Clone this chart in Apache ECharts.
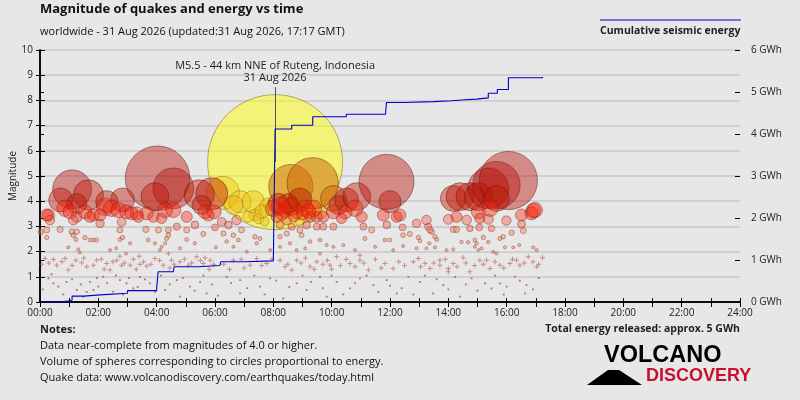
<!DOCTYPE html>
<html>
<head>
<meta charset="utf-8">
<script src="https://cdn.jsdelivr.net/npm/echarts@6/dist/echarts.min.js"></script>
<style>
html,body{margin:0;padding:0;background:#e7e7e7;}
#c{width:800px;height:400px;}
</style>
</head>
<body>
<div id="c"></div>
<script>
// ---------- DATA ----------
const hourTicks = [0,2,4,6,8,10,12,14,16,18,20,22,24];
const energyTicks = [0,1,2,3,4,5,6];

// strongest quake (annotated)
const bigQuake = [8.06, 5.55];
const bigQuakeLabel = 'M5.5 - 44 km NNE of Ruteng, Indonesia\n31 Aug 2026';
const annotationTopMag = 8.53;

// [hour of day, magnitude]
const quakesGold = [[6.27,4.33],[6.86,3.98],[7.31,3.98],[7.83,3.78],[6.63,3.85],[7.37,3.45],[7.14,3.38],[7.6,3.58],[8.91,3.18],[9.6,3.58],[7.5,3.3],[7.7,3.2]];
const quakesOrange = [[8.6,4.58],[9.35,4.71],[10.06,4.11]];
const quakesLarge = [[1.1,4.47],[1.66,4.25],[0.71,4.05],[1.26,3.9],[4.03,4.91],[4.57,4.51],[3.94,4.18],[2.83,4.05],[2.29,3.98],[5.46,4.25],[5.89,4.3],[8.17,3.91],[8.91,4.05],[10.23,3.85],[10.51,4.05],[10.86,4.18],[11.88,4.77],[12.0,3.98],[14.17,4.11],[14.4,4.18],[14.74,4.18],[15.03,4.18],[15.37,4.51],[15.65,4.64],[16.06,4.82],[15.65,4.11],[5.54,3.85]];
const quakesMid = [[0.29,3.45],[0.34,3.25],[0.86,3.72],[1.03,3.58],[1.26,3.38],[1.54,3.58],[1.83,3.45],[2.06,3.12],[2.23,3.78],[2.46,3.72],[2.69,3.65],[2.8,3.18],[2.97,3.58],[3.14,3.52],[3.31,3.52],[3.37,3.38],[3.66,3.52],[3.89,3.38],[4.17,3.32],[4.29,3.65],[4.57,3.65],[5.03,3.38],[5.31,3.06],[5.66,3.58],[5.77,3.45],[5.97,3.58],[1.14,3.25],[1.71,3.38],[2.06,3.45],[0.23,3.45],
[6.23,3.18],[6.46,3.06],[6.74,3.25],
[8.0,3.72],[8.4,3.65],[8.63,3.78],[8.8,3.58],[9.09,3.72],[9.37,3.72],[8.46,3.25],[8.11,3.38],[9.49,3.38],[9.71,3.38],[10.06,3.58],[10.8,3.72],[10.46,3.58],[11.03,3.38],[10.34,3.32],[9.26,3.38],[11.77,3.45],[11.89,3.06],[12.23,3.38],[8.23,3.06],[9.14,3.06],
[8.3,3.5],[8.5,3.9],[8.7,3.4],[9.0,3.5],[9.2,3.6],[8.25,3.8],
[12.34,3.45],[12.91,3.12],[13.25,3.25],[14.0,3.28],[14.28,3.38],[14.63,3.25],[15.03,3.58],[15.08,3.32],[15.37,3.28],[15.43,3.72],[15.99,3.23],[16.51,3.45],[16.85,3.52],[16.91,3.62],[16.97,3.65],[16.51,3.09]];
const quakesSmall = [[0.03,2.78],[0.23,2.86],[0.69,2.88],[1.26,2.79],[2.74,2.86],[3.63,2.88],[4.06,2.86],[4.4,2.86],[4.69,2.99],[5.03,2.86],[5.6,2.7],[6.0,2.96],
[0.23,2.56],[1.09,2.79],[1.14,2.65],[1.23,2.48],[1.54,2.56],[1.71,2.46],[1.83,2.46],[1.94,2.46],[0.97,2.17],[1.31,2.09],[1.37,1.96],[2.4,2.06],[2.61,2.13],[2.74,2.48],[2.83,2.56],[3.09,2.33],[2.95,1.92],[3.71,2.46],[3.94,2.33],[4.11,2.06],[4.17,2.19],[4.29,2.33],[4.34,2.52],[4.4,2.65],[5.03,2.48],[5.31,2.33],[4.8,2.13],[6.03,2.17],
[6.91,2.86],[6.29,2.72],[6.63,2.65],[8.63,2.99],[8.91,2.86],[9.49,2.99],[9.71,2.99],[10.06,2.99],[11.09,2.99],[11.37,2.86],
[6.4,2.4],[6.8,2.46],[7.37,2.59],[7.43,2.33],[7.54,2.52],[6.63,2.19],[7.09,1.99],[7.89,2.06],[8.23,2.59],[8.46,2.72],[8.57,2.33],[8.97,2.65],[9.26,2.4],[9.6,2.46],[9.83,2.26],[9.09,2.13],[9.6,1.92],[10.06,2.19],[10.4,2.26],[10.8,2.06],[11.14,2.52],[11.49,2.19],[11.83,2.46],[12.0,2.46],[12.11,2.06],[8.8,2.06],[8.23,2.19],
[14.17,2.88],[14.28,2.88],[14.74,2.92],[15.06,2.96],[15.48,2.92],[16.57,2.83],[16.17,2.75],[13.43,2.79],[12.43,2.96],[13.31,2.99],[13.37,2.86],
[12.45,2.65],[12.68,2.7],[12.97,2.56],[13.03,2.43],[13.35,2.33],[13.54,2.59],[13.6,2.48],[14.45,2.38],[14.68,2.37],[14.91,2.46],[14.97,2.33],[15.2,2.56],[15.37,2.38],[15.14,2.13],[15.77,2.52],[15.88,2.59],[16.43,2.26],[16.91,2.17],[17.03,2.06],[12.91,2.13],[13.25,2.13],[13.54,2.17],[13.94,2.06],[14.17,2.09],[12.45,2.22],[15.94,2.17],[16.23,2.17],[14.91,2.19],[15.03,2.06],[15.54,1.99],[15.65,1.92]];
const quakesMicro = [[0.06,1.5],[0.17,1.73],[0.46,1.69],[0.57,1.46],[0.86,1.73],[0.97,1.27],[1.23,1.66],[1.43,1.56],[1.6,1.4],[1.83,1.46],[1.94,1.66],[2.29,1.53],[2.4,1.27],[2.63,1.66],[2.74,1.82],[2.8,1.46],[3.09,1.46],[3.4,1.82],[3.43,1.5],[3.66,1.43],[3.94,1.73],[4.23,1.46],[4.4,1.92],[4.51,1.66],[4.8,1.6],[5.09,1.46],[5.37,1.8],[5.6,1.53],[5.66,1.76],[5.83,1.66],
[6.63,1.66],[7.2,1.46],[7.43,1.73],[7.77,1.53],[8.23,1.66],[8.4,1.4],[8.63,1.27],[8.8,1.66],[9.26,1.4],[9.49,1.6],[9.94,1.46],[10.17,1.8],[10.63,1.53],[10.97,1.66],[10.97,1.86],[11.26,1.27],[11.83,1.53],[12.11,1.33],
[12.97,1.73],[13.2,1.53],[13.37,1.33],[13.71,1.66],[13.71,1.46],[14.0,1.33],[14.17,1.53],[14.51,1.76],[14.74,1.2],[15.08,1.66],[15.31,1.66],[15.43,1.33],[15.77,1.46],[16.11,1.53],[16.34,1.66],[16.45,1.46],[16.74,1.8],[17.03,1.4],[17.23,1.76],[14.0,1.2],
[0.3,1.55],[0.75,1.6],[1.1,1.45],[1.5,1.75],[2.1,1.7],[2.5,1.6],[2.9,1.55],[3.2,1.7],[3.55,1.6],[3.8,1.5],[4.1,1.65],[4.6,1.5],[4.95,1.7],[5.2,1.55],[5.5,1.65],[5.95,1.5],[2.2,1.3],[3.3,1.3],[4.45,1.35],[5.8,1.3],
[6.3,1.5],[6.9,1.7],[7.0,1.35],[7.6,1.45],[7.95,1.7],[8.5,1.5],[8.95,1.55],[9.1,1.75],[9.7,1.5],[9.85,1.65],[10.3,1.45],[10.5,1.7],[10.8,1.4],[11.1,1.55],[11.5,1.7],[11.7,1.35],[12.3,1.6],[9.4,1.3],[10.0,1.3],[6.5,1.3],
[12.5,1.45],[12.8,1.6],[13.05,1.4],[13.5,1.55],[13.9,1.7],[14.3,1.4],[14.6,1.55],[14.9,1.45],[15.2,1.5],[15.6,1.6],[15.9,1.35],[16.2,1.7],[16.6,1.55],[16.9,1.6],[17.1,1.5]];
const quakesTiny = [[0.29,0.94],[0.46,0.74],[0.63,0.61],[0.91,0.8],[1.26,0.48],[1.49,0.21],[1.71,0.8],[1.83,0.48],[2.0,0.61],[2.17,1.0],[2.51,0.41],[2.74,0.87],[2.97,0.74],[3.2,0.54],[3.43,1.0],[3.77,0.74],[4.29,0.48],[4.69,0.87],[4.8,0.21],[5.14,0.61],[5.49,0.8],[5.71,0.34],
[6.4,1.0],[6.86,0.87],[6.86,0.34],[7.54,0.61],[7.89,0.94],[8.34,0.14],[8.8,0.74],[9.14,0.48],[9.6,1.0],[9.83,0.21],[10.17,0.8],[10.63,0.54],[10.97,0.94],[11.43,0.67],[11.89,0.87],[12.23,0.34],
[12.63,1.0],[13.03,0.8],[13.48,0.34],[13.83,0.67],[14.23,1.0],[14.4,0.21],[14.8,0.94],[15.26,0.74],[15.48,0.54],[15.77,0.74],[16.0,0.61],[16.28,1.0],[16.63,0.34],[16.68,0.67],
[0.1,0.5],[0.4,1.1],[0.8,0.3],[1.1,0.9],[1.4,0.7],[1.6,0.4],[1.95,0.95],[2.3,0.75],[2.6,1.05],[2.85,0.3],[3.05,0.95],[3.35,0.6],[3.6,0.9],[3.95,0.4],[4.15,1.05],[4.45,0.7],[4.9,0.95],[5.3,0.45],[5.6,1.05],[5.9,0.7],[6.1,0.25],
[6.55,0.75],[7.1,0.55],[7.35,1.05],[7.7,0.3],[8.1,0.85],[8.55,0.6],[9.0,1.05],[9.3,0.8],[9.7,0.55],[10.0,1.05],[10.4,0.3],[10.8,0.75],[11.2,1.05],[11.6,0.4],[12.0,0.65],
[12.4,0.55],[12.8,0.3],[13.2,1.05],[13.6,0.9],[14.0,0.5],[14.6,0.7],[15.0,0.45],[15.6,1.05],[15.9,0.3],[16.45,0.85],[16.9,0.5],[17.1,0.95]];

// cumulative seismic energy (GWh)
const energyTimes  = [0,0.5,1.0,1.1,1.5,2.06,3.0,4.0,4.05,4.57,4.6,5.4,6.17,6.2,7.0,8.0,8.06,8.63,9.35,10.5,11.85,11.88,12.5,13.5,14.11,14.46,14.97,15.37,15.68,16.06,17.23];
const energyValues = [0,0.02,0.05,0.14,0.17,0.21,0.27,0.33,0.72,0.76,0.84,0.87,0.90,0.96,0.98,1.02,4.12,4.21,4.41,4.47,4.53,4.75,4.77,4.79,4.81,4.83,4.86,4.97,5.06,5.34,5.36];

// ---------- CHART ----------
const FONT = '"Open Sans", "Noto Sans", sans-serif';
const chart = echarts.init(document.getElementById('c'));
const energyData = energyTimes.map((t,i)=>[t, energyValues[i]]);
const sizeOf = v => Math.max(3, 0.2266*Math.pow(10, 0.5*v[1]));
function redColor(p){
  const m = p.value[1];
  if (m >= 4.4) return 'rgba(180,10,0,0.52)';
  if (m >= 3.85) return 'rgba(192,18,0,0.53)';
  if (m >= 3.3) return 'rgba(250,35,10,0.5)';
  if (m >= 2.9) return 'rgba(245,70,50,0.45)';
  return 'rgba(240,125,85,0.5)';
}
const pad = h => (h<10?'0':'')+h+':00';

const tickAxisX = (extra) => Object.assign({type:'value', min:0, max:24, interval:1, splitLine:{show:false}}, extra);
const tickAxisY = (extra) => Object.assign({type:'value', splitLine:{show:false}}, extra);

chart.setOption({
  animation:false,
  backgroundColor:'#e7e7e7',
  grid:{left:40, right:60, top:50, bottom:98, containLabel:false, outerBoundsMode:'none'},
  xAxis:[
    tickAxisX({position:'bottom',
      axisLine:{show:true, lineStyle:{color:'#000', width:1.5}},
      axisTick:{show:true, inside:false, length:5, lineStyle:{color:'#000', width:1}},
      axisLabel:{show:true, fontSize:10, color:'#222', fontFamily:FONT, margin:6,
        formatter: v => hourTicks.indexOf(v) >= 0 ? pad(v) : ''}}),
    tickAxisX({position:'bottom', axisLine:{show:false},
      axisTick:{show:true, inside:true, length:4, lineStyle:{color:'#000', width:1}}, axisLabel:{show:false}}),
    tickAxisX({position:'top', axisLine:{show:true, lineStyle:{color:'#000', width:1.5}},
      axisTick:{show:false}, axisLabel:{show:false}})
  ],
  yAxis:[
    tickAxisY({min:0, max:10, interval:1, position:'left',
      axisLine:{show:true, lineStyle:{color:'#000', width:1.5}},
      axisTick:{show:true, length:4, lineStyle:{color:'#000'}},
      axisLabel:{fontSize:10, color:'#222', fontFamily:FONT, margin:7},
      splitLine:{show:true, lineStyle:{color:'#c9c9c9', width:1.5}},
      name:'Magnitude', nameLocation:'middle', nameGap:22, nameMoveOverlap:false,
      nameTextStyle:{fontSize:10, color:'#222', fontFamily:FONT}}),
    tickAxisY({min:0, max:6, interval:1, position:'right',
      axisLine:{show:true, lineStyle:{color:'#000', width:1.5}},
      axisTick:{show:true, length:4, lineStyle:{color:'#000'}},
      axisLabel:{fontSize:10, color:'#222', fontFamily:FONT, margin:11,
        formatter: v => energyTicks.indexOf(v)>=0 ? v+' GWh' : ''}}),
    tickAxisY({min:0, max:10, interval:1, position:'left', axisLine:{show:false},
      axisTick:{show:true, inside:true, length:5, lineStyle:{color:'#000'}}, axisLabel:{show:false}}),
    tickAxisY({min:0, max:6, interval:1, position:'right', axisLine:{show:false},
      axisTick:{show:true, inside:true, length:5, lineStyle:{color:'#000'}}, axisLabel:{show:false}})
  ],
  series:[
    {type:'scatter', name:'main', data:[bigQuake], symbolSize:sizeOf,
      itemStyle:{color:'rgba(255,255,20,0.65)', borderColor:'rgba(110,100,30,0.8)', borderWidth:0.8},
      markLine:{silent:true, symbol:'none', animation:false,
        lineStyle:{color:'#555', width:1, type:'solid'},
        label:{show:true, position:'end', formatter:bigQuakeLabel, fontSize:11, color:'#222',
          fontFamily:FONT, lineHeight:12, distance:3},
        data:[[{coord:[bigQuake[0], bigQuake[1]]},{coord:[bigQuake[0], annotationTopMag]}]]}},
    {type:'scatter', data:quakesGold, symbolSize:sizeOf,
      itemStyle:{color:'rgba(238,185,10,0.5)', borderColor:'rgba(120,90,20,0.6)', borderWidth:0.8}},
    {type:'scatter', data:quakesOrange, symbolSize:sizeOf,
      itemStyle:{color:'rgba(205,105,10,0.65)', borderColor:'rgba(100,45,15,0.8)', borderWidth:0.8}},
    {type:'scatter', data:quakesLarge, symbolSize:sizeOf,
      itemStyle:{color:redColor, borderColor:'rgba(95,25,15,0.75)', borderWidth:0.8}},
    {type:'scatter', data:quakesMid, symbolSize:sizeOf,
      itemStyle:{color:redColor, borderColor:'rgba(120,30,20,0.7)', borderWidth:0.8}},
    {type:'scatter', data:quakesSmall, symbolSize:sizeOf,
      itemStyle:{color:redColor, borderColor:'rgba(150,60,40,0.75)', borderWidth:0.8}},
    {type:'scatter', data:quakesMicro, symbolSize:5,
      symbol:'path://M4,0H6V4H10V6H6V10H4V6H0V4H4Z',
      itemStyle:{color:'rgba(185,100,90,0.85)'}},
    {type:'scatter', data:quakesTiny, symbolSize:1.8, symbol:'rect',
      itemStyle:{color:'rgba(170,60,50,0.9)'}},
    {type:'line', data:energyData, yAxisIndex:1, step:'end', showSymbol:false, z:5,
      lineStyle:{color:'#0000cc', width:1.1}}
  ],
  graphic:[
    {type:'text', left:40, top:3, style:{text:'Magnitude of quakes and energy vs time', font:'bold 13px '+FONT, fill:'#111'}},
    {type:'text', left:40, top:26, style:{text:'worldwide - 31 Aug 2026 (updated:31 Aug 2026, 17:17 GMT)', font:'11px '+FONT, fill:'#111'}},
    {type:'line', shape:{x1:600, y1:20, x2:741, y2:20}, style:{stroke:'#0000cc', lineWidth:1.2}},
    {type:'text', left:600, top:26, style:{text:'Cumulative seismic energy', font:'bold 10.5px '+FONT, fill:'#222'}},
    {type:'text', left:40, top:324, style:{text:'Notes:', font:'bold 11px '+FONT, fill:'#222'}},
    {type:'text', left:40, top:340, style:{text:'Data near-complete from magnitudes of 4.0 or higher.', font:'11px '+FONT, fill:'#111'}},
    {type:'text', left:40, top:356, style:{text:'Volume of spheres corresponding to circles proportional to energy.', font:'11px '+FONT, fill:'#111'}},
    {type:'text', left:40, top:372, style:{text:'Quake data: www.volcanodiscovery.com/earthquakes/today.html', font:'11px '+FONT, fill:'#111'}},
    {type:'text', right:60, top:324, style:{text:'Total energy released: approx. 5 GWh', font:'bold 10.5px '+FONT, fill:'#222'}},
    {type:'polygon', shape:{points:[[587,385],[608,370],[619,370],[642,385]]}, style:{fill:'#000'}},
    {type:'text', left:604, top:344, style:{text:'VOLCANO', font:'bold 23.5px "Liberation Sans", Arial, sans-serif', fill:'#000'}},
    {type:'text', left:646, top:367, style:{text:'DISCOVERY', font:'bold 18px "Liberation Sans", Arial, sans-serif', fill:'#c8102e'}}
  ]
});
</script>
</body>
</html>
